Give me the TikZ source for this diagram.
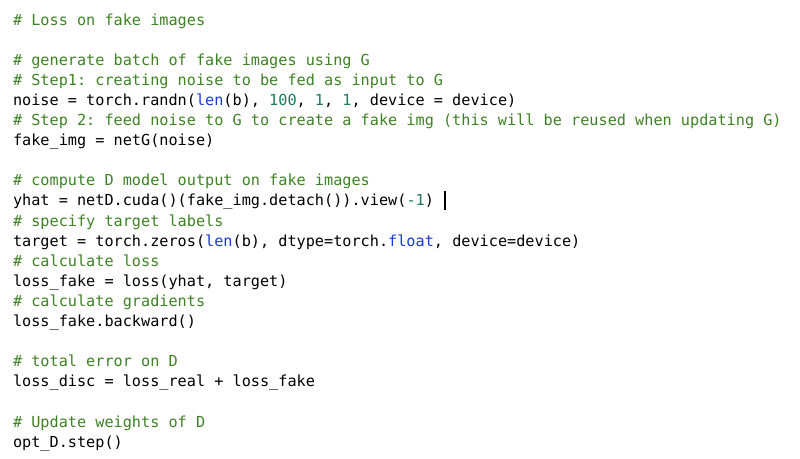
\documentclass[tikz,border=0pt]{standalone}
\usepackage{fontspec}
\newfontfamily\codefont{DejaVu Sans Mono}
\definecolor{cmtgreen}{HTML}{3F8226}
\definecolor{numgreen}{HTML}{1E7A55}
\definecolor{kwblue}{HTML}{1A3AD6}
\newcommand{\cmt}[1]{\textcolor{cmtgreen}{#1}}
\newcommand{\num}[1]{\textcolor{numgreen}{#1}}
\newcommand{\kw}[1]{\textcolor{kwblue}{#1}}
\tikzset{
  codeline/.style={anchor=base west, inner sep=0pt, outer sep=0pt,
    font=\codefont\fontsize{15.2}{20}\selectfont\frenchspacing, text=black}
}
\begin{document}
\begin{tikzpicture}[x=1pt, y=1pt]
                \useasboundingbox[fill=white] (0,0) rectangle (800,-458) ;
                \node[codeline] (l0) at (13,-25) {\cmt{\# Loss on fake images}} ;
                \node[codeline] (l2) at (13,-65.2) {\cmt{\# generate batch of fake images using G}} ;
                \node[codeline] (l3) at (13,-85.3) {\cmt{\# Step1: creating noise to be fed as input to G}} ;
                \node[codeline] (l4) at (13,-105.4) {noise = torch.randn(\kw{len}(b), \num{100}, \num{1}, \num{1}, device = device)} ;
                \node[codeline] (l5) at (13,-125.5) {\cmt{\# Step 2: feed noise to G to create a fake img (this will be reused when updating G)}} ;
                \node[codeline] (l6) at (13,-145.6) {fake\_img = netG(noise)} ;
                \node[codeline] (l8) at (13,-185.8) {\cmt{\# compute D model output on fake images}} ;
                \node[codeline] (l9) at (13,-205.9) {yhat = netD.cuda()(fake\_img.detach()).view(\num{-1})} ;
                \node[codeline] (l10) at (13,-226) {\cmt{\# specify target labels}} ;
                \node[codeline] (l11) at (13,-246.1) {target = torch.zeros(\kw{len}(b), dtype=torch.\kw{float}, device=device)} ;
                \node[codeline] (l12) at (13,-266.2) {\cmt{\# calculate loss}} ;
                \node[codeline] (l13) at (13,-286.3) {loss\_fake = loss(yhat, target)} ;
                \node[codeline] (l14) at (13,-306.4) {\cmt{\# calculate gradients}} ;
                \node[codeline] (l15) at (13,-326.5) {loss\_fake.backward()} ;
                \node[codeline] (l17) at (13,-366.7) {\cmt{\# total error on D}} ;
                \node[codeline] (l18) at (13,-386.8) {loss\_disc = loss\_real + loss\_fake} ;
                \node[codeline] (l20) at (13,-427) {\cmt{\# Update weights of D}} ;
                \node[codeline] (l21) at (13,-447.1) {opt\_D.step()} ;
                % text cursor after the yhat line
                \coordinate (cursortop) at ([xshift=11pt, yshift=15pt]l9.base east) ;
                \coordinate (cursorbot) at ([xshift=11pt, yshift=-4pt]l9.base east) ;
                \draw[line width=1.6pt, color=black] (cursortop) -- (cursorbot) ;
            \end{tikzpicture}
\end{document}
